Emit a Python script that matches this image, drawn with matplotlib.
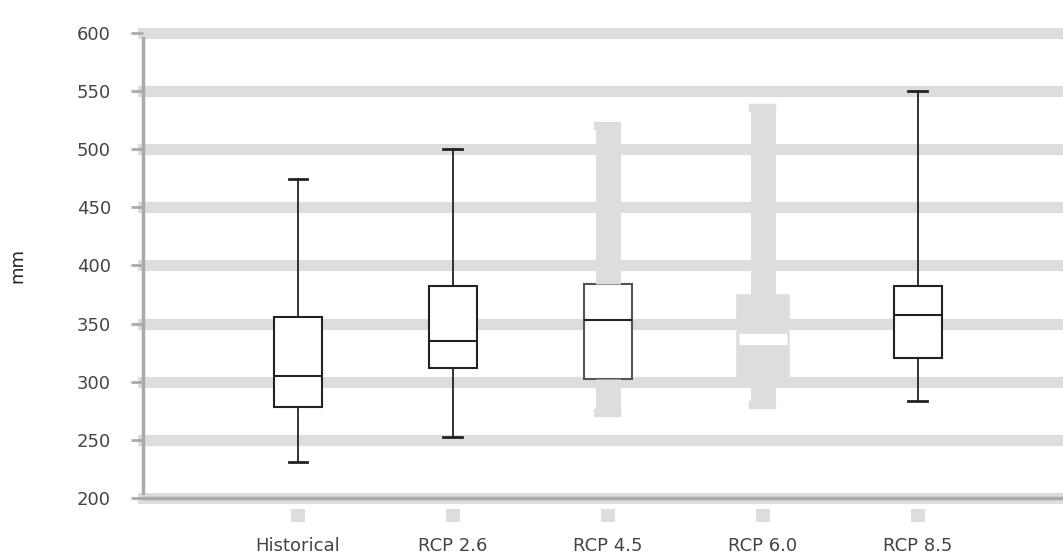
import matplotlib.pyplot as plt

# Box statistics (mm)
labels = ["Historical", "RCP 2.6", "RCP 4.5", "RCP 6.0", "RCP 8.5"]
whis_lo = [231, 252, 273, 280, 283]
q1 = [278, 312, 302, 302, 320]
med = [305, 335, 353, 337, 357]
q3 = [356, 382, 384, 373, 382]
whis_hi = [474, 500, 520, 535, 550]
yticks = [200, 250, 300, 350, 400, 450, 500, 550, 600]

stats = [dict(label=l, whislo=a, q1=b, med=c, q3=d, whishi=e)
         for l, a, b, c, d, e in zip(labels, whis_lo, q1, med, q3, whis_hi)]

fig = plt.figure(figsize=(10.63, 5.57), dpi=100)
ax = fig.add_axes([0.1345, 0.106, 0.87, 0.835])

dark = "#222222"
art = ax.bxp(stats, positions=range(1, len(labels) + 1), widths=0.31,
             capwidths=0.12, showfliers=False, patch_artist=True,
             boxprops=dict(facecolor="white", edgecolor=dark, linewidth=1.5),
             whiskerprops=dict(color=dark, linewidth=1.3),
             capprops=dict(color=dark, linewidth=2),
             medianprops=dict(color=dark, linewidth=1.5))

# RCP 4.5 and RCP 6.0 look washed out in grey
light = "#dddddd"
for i in (2, 3):
    for w in art["whiskers"][2 * i:2 * i + 2]:
        w.set_color(light)
        w.set_linewidth(18)
        w.set_solid_capstyle("butt")
    for c in art["caps"][2 * i:2 * i + 2]:
        c.set_color(light)
        c.set_linewidth(6)
art["boxes"][2].set_edgecolor("#555555")
art["boxes"][3].set_facecolor(light)
art["boxes"][3].set_edgecolor(light)
art["boxes"][3].set_linewidth(4)
art["medians"][3].set_color("white")
art["medians"][3].set_linewidth(8)

ax.set_xlim(0, 5.97)
ax.set_ylim(200, 600)
ax.set_yticks(yticks)
ax.set_axisbelow(True)
ax.yaxis.grid(True, color=light, linewidth=8)
for g in ax.get_ygridlines():
    g.set_clip_on(False)

for s in ("top", "right"):
    ax.spines[s].set_visible(False)
ax.spines["left"].set_color("#aaaaaa")
ax.spines["left"].set_linewidth(2.5)
ax.spines["left"].set_bounds(204, 596)
ax.spines["left"].set_zorder(3)
ax.spines["bottom"].set_visible(False)
ax.spines["bottom"].set_position(("outward", 8))
ax.axhline(200, color="#aaaaaa", linewidth=2.5, clip_on=False)

ax.tick_params(axis="y", length=9, width=2, color="#aaaaaa", pad=14,
               labelsize=13, labelcolor="#444444")
ax.tick_params(axis="x", length=9, width=10, color=light, pad=11,
               labelsize=13, labelcolor="#444444")
ax.set_xticklabels(labels)
ax.set_ylabel("mm", fontsize=13, color="#222222", labelpad=36)

fig.savefig("out.png", dpi=100)
